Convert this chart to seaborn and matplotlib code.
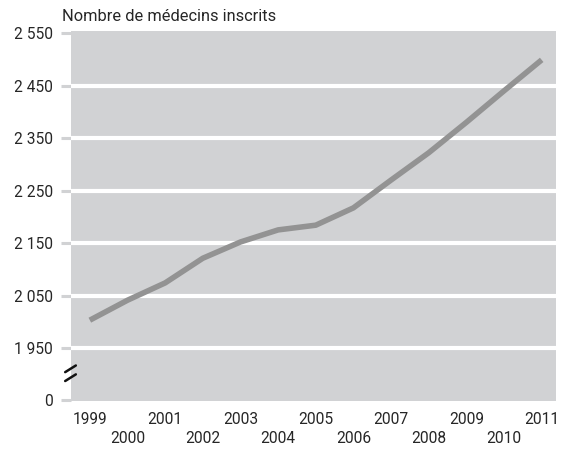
import pandas as pd
import matplotlib.pyplot as plt
import seaborn as sns

# data
years = [1999, 2000, 2001, 2002, 2003, 2004, 2005, 2006, 2007, 2008, 2009, 2010, 2011]
doctors = [2003, 2041, 2074, 2121, 2152, 2175, 2184, 2217, 2270, 2322, 2380, 2440, 2499]
ytick_values = [1850, 1950, 2050, 2150, 2250, 2350, 2450, 2550]
ytick_labels = ["0", "1 950", "2 050", "2 150", "2 250", "2 350", "2 450", "2 550"]

df = pd.DataFrame({"year": years, "doctors": doctors})

sns.set_style("white")
plt.rcParams["font.family"] = ["Roboto", "DejaVu Sans"]

bg = "#d1d2d4"
fig = plt.figure(figsize=(5.61, 4.49), dpi=100)
ax = fig.add_axes([71 / 561, 1 - 401 / 449, 485 / 561, 370 / 449])
ax.set_facecolor(bg)
for s in ax.spines.values():
    s.set_visible(False)

# white gridlines (inside only)
for v in ytick_values[1:-1]:
    ax.axhline(v, color="white", lw=3.0, zorder=1)

sns.lineplot(data=df, x="year", y="doctors", ax=ax, color="#939393",
             linewidth=4.0, zorder=3, solid_capstyle="butt")

ax.set_xlim(1998.5, 2011.38)
ax.set_ylim(1849, 2554)

ax.set_yticks(ytick_values)
ax.set_yticklabels(ytick_labels)
ax.tick_params(axis="y", length=7.5, width=2.2, color=bg, pad=5.5,
               labelsize=11.2, labelcolor="#262626", left=True)

ax.set_xticks(years)
ax.set_xticklabels([str(y) for y in years])
ax.tick_params(axis="x", length=0, pad=8, labelsize=11.2, labelcolor="#262626")
for yr, lbl in zip(years, ax.get_xticklabels()):
    if yr % 2 == 0:
        lbl.set_y(-0.052)

ax.set_xlabel("")
ax.set_ylabel("")

# axis break marks
for y0 in (0.054, 0.078):
    ax.plot([-0.012, 0.010], [y0, y0 + 0.018], transform=ax.transAxes,
            color="#111111", lw=1.8, clip_on=False, zorder=5)

fig.text(62 / 561, 1 - 21 / 449, "Nombre de médecins inscrits", fontsize=11.8,
         color="#262626", va="baseline", ha="left")

fig.savefig("out.png", dpi=100)
